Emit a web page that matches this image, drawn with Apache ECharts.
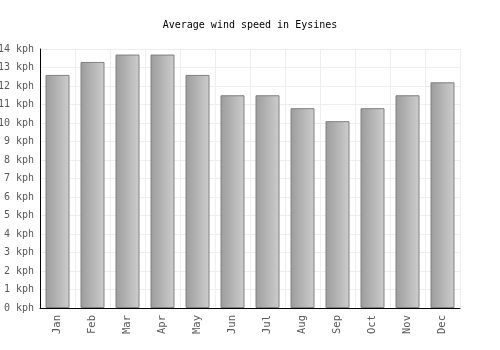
<!DOCTYPE html>
<html><head><meta charset="utf-8">
<script src="https://cdn.jsdelivr.net/npm/echarts@6/dist/echarts.min.js"></script>
<style>html,body{margin:0;padding:0;background:#fff}#c{width:500px;height:350px}</style>
</head><body><div id="c"></div>
<script>
const categories = ['Jan','Feb','Mar','Apr','May','Jun','Jul','Aug','Sep','Oct','Nov','Dec'];
const windSpeed = [12.6, 13.3, 13.7, 13.7, 12.6, 11.5, 11.5, 10.8, 10.1, 10.8, 11.5, 12.2];
const titleText = 'Average wind speed in Eysines';
const unit = ' kph';
const FONT = '"DejaVu Sans Mono", monospace';

const chart = echarts.init(document.getElementById('c'), null, {renderer: 'canvas'});
chart.setOption({
  animation: false,
  backgroundColor: '#fff',
  title: {
    text: titleText, left: 'center', top: 15,
    textStyle: {fontFamily: FONT, fontSize: 10, fontWeight: 'normal', color: '#000'}
  },
  grid: {left: 40, right: 40, top: 49, bottom: 42, containLabel: false, outerBoundsMode: 'none'},
  xAxis: {
    type: 'category', data: categories,
    boundaryGap: true,
    axisLine: {show: true, lineStyle: {color: '#000', width: 1}},
    axisTick: {show: false},
    splitLine: {show: true, interval: 0, lineStyle: {color: '#eeeeee', width: 1}},
    axisLabel: {rotate: 90, interval: 0, fontFamily: FONT, fontSize: 10.5, color: '#5a5a5a', margin: 7}
  },
  yAxis: {
    type: 'value', min: 0, max: 14, interval: 1,
    axisLine: {show: true, lineStyle: {color: '#000', width: 1}},
    axisTick: {show: false},
    splitLine: {show: true, lineStyle: {color: '#eeeeee', width: 1}},
    axisLabel: {formatter: v => v + unit, fontFamily: FONT, fontSize: 10, color: '#5a5a5a', margin: 6}
  },
  series: [{
    type: 'bar', data: windSpeed, barWidth: 24,
    itemStyle: {
      color: new echarts.graphic.LinearGradient(0, 0, 1, 0, [
        {offset: 0, color: '#9c9c9c'}, {offset: 1, color: '#cdcdcd'}
      ]),
      borderColor: '#808080', borderWidth: 1
    }
  }]
});
</script></body></html>
